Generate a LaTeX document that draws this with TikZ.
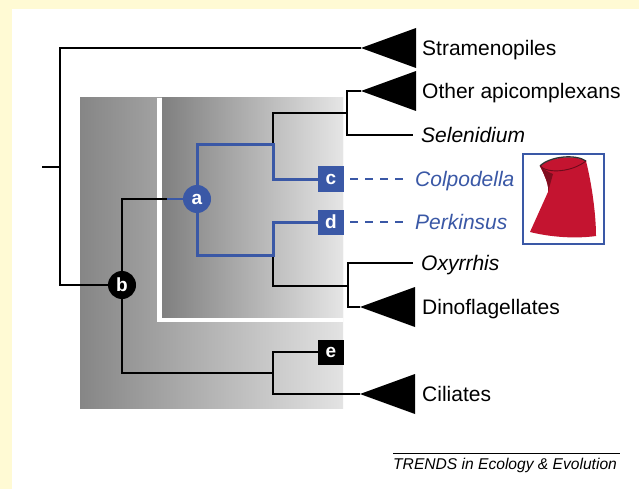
\documentclass[tikz,border=0pt]{standalone}
\usepackage{fontspec}
\setmainfont{Liberation Sans}
\usepackage{xcolor}
\usepackage{tikz}
\usetikzlibrary{arrows, arrows.meta}

\definecolor{cream}{RGB}{255,250,212}
\definecolor{apblue}{RGB}{58,88,166}
\definecolor{cellred}{RGB}{196,20,48}

\begin{document}
\begin{tikzpicture}[x=1pt,y=-1pt,
  branch/.style={line width=1.3pt},
  bluebranch/.style={draw=apblue,line width=3pt},
  lab/.style={anchor=west,inner sep=0pt,text height=15pt,text depth=0pt,font=\fontsize{21}{24}\selectfont},
  itlab/.style={lab,font=\itshape\fontsize{21}{24}\selectfont},
  dot/.style={circle,inner sep=0pt,minimum size=28pt,text=white,font=\bfseries\fontsize{19}{20}\selectfont},
  sq/.style={rectangle,inner sep=0pt,minimum width=26pt,minimum height=25pt,text=white,font=\bfseries\fontsize{19}{20}\selectfont},
  dashline/.style={apblue,line width=1.3pt,dash pattern=on 8pt off 7pt}]
\useasboundingbox (0,0) rectangle (639,489);
\fill[cream] (0,0) rectangle (639,489);
\fill[white] (12,9) rectangle (639,489); %page
\shade[left color=gray!95,right color=gray!22] (80,98) rectangle (343,408);
\fill[white] (157,98) rectangle (343,322);
\shade[left color=gray,right color=gray!20] (162,98) rectangle (343,317);

% nodes
\node[dot,fill=black] (b) at (122,285) {b};
\node[dot,fill=apblue] (a) at (197,199) {a};
\node[sq,fill=apblue] (c) at (331,179) {c};
\node[sq,fill=apblue] (d) at (331,222) {d};
\node[sq,fill=black] (e) at (331,352) {e};

% labels
\node[lab] (stram) at (422,48) {Stramenopiles};
\node[lab] (othap) at (422,91) {Other apicomplexans};
\node[itlab] (sel) at (421,135) {Selenidium};
\node[itlab,text=apblue] (colp) at (415,179) {Colpodella};
\node[itlab,text=apblue] (perk) at (415,222) {Perkinsus};
\node[itlab] (oxy) at (421,263) {Oxyrrhis};
\node[lab] (dino) at (422,307) {Dinoflagellates};
\node[lab] (cil) at (422,394) {Ciliates};

% clade tips
\coordinate (tS) at (361,48);
\coordinate (tA) at (361,91);
\coordinate (tD) at (360,307);
\coordinate (tC) at (360,394);
\foreach \t in {tS,tA,tD,tC}
  \fill (\t) -- ++(55,-20) -- ++(0,40) -- cycle;

% joints
\coordinate (rt) at (42,167);
\coordinate (rj) at (60,167);
\coordinate (ab) at (167,199);
\coordinate (aj1) at (273,145);
\coordinate (aj2) at (273,255);
\coordinate (apj) at (347,113);
\coordinate (dj) at (348,286);
\coordinate (ej) at (273,373);

\draw[branch] (rt) -- (rj);
\draw[branch] (tS) -| (rj) |- (b);
\draw[branch] (b) |- (ab);
\draw[apblue,line width=1.3pt] (ab) -- (a);
\draw[branch] (b) |- (ej);
\draw[branch] (e) -| (ej) |- (tC);
\draw[branch] (aj1) |- (apj);
\draw[branch,shorten >=8pt] (tA) -| (apj) |- (sel.west);
\draw[branch] (aj2) |- (dj);
\draw[branch,shorten <=8pt] (oxy.west) -| (dj) |- (tD);
\draw[bluebranch] (a) |- (aj1) |- (c);
\draw[bluebranch] (a) |- (aj2) |- (d);
\draw[dashline,shorten <=6pt,shorten >=8pt] (c.east) -- (colp.west |- c.east);
\draw[dashline,shorten <=6pt,shorten >=8pt] (d.east) -- (perk.west |- d.east);

% cell picture
\node[draw=apblue,line width=1.2pt,minimum width=81pt,minimum height=90pt] (cell) at (563.5,199) {};
\fill[cellred] (540,166) .. controls (546,178) and (549,186) .. (548,192) -- (530,232) .. controls (550,237) and (575,239) .. (596,236) .. controls (596,215) and (592,185) .. (586,161) .. controls (575,155) and (552,156) .. (540,166) -- cycle;
\fill[cellred!65!black] (540,166) .. controls (546,178) and (549,186) .. (548,192) -- (553,174) .. controls (548,172) and (543,169) .. (540,166) -- cycle;
\draw[black!80,line width=1.3pt] (540,166) .. controls (550,156) and (576,154) .. (586,161);
\draw[cellred!55!black,line width=0.9pt] (540,166) .. controls (548,174) and (572,172) .. (586,161);

% footer
\node[anchor=west,inner sep=0pt,text height=11pt,text depth=0pt,font=\itshape\fontsize{15.6}{18}\selectfont] (trends) at (393,464) {TRENDS in Ecology \& Evolution};
\draw[line width=0.8pt] (393,453) -- (620,453);
\end{tikzpicture}
\end{document}
